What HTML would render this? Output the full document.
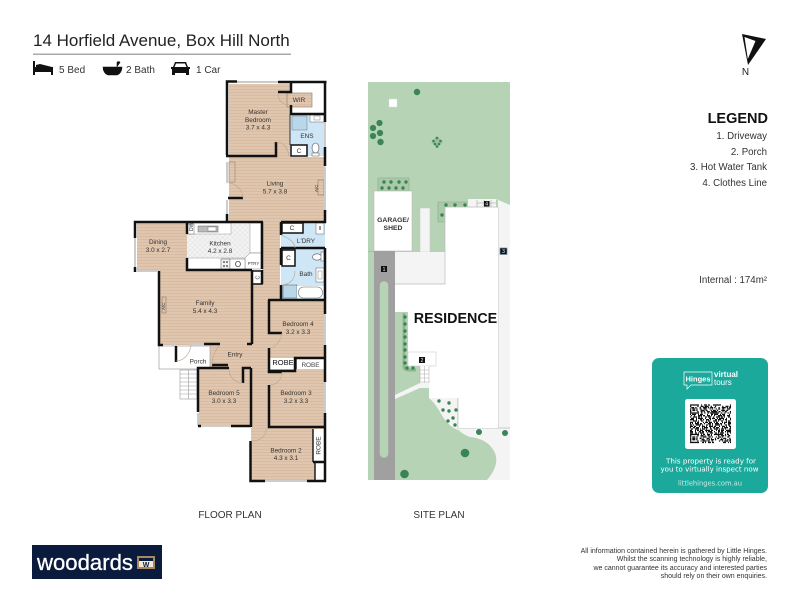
<!DOCTYPE html>
<html><head><meta charset="utf-8"><style>
html,body{margin:0;padding:0;background:#fff;width:800px;height:600px;overflow:hidden}
svg{display:block}
text{font-family:"Liberation Sans",sans-serif}
.r{font-size:6.4px;fill:#333;text-anchor:middle}
.w{fill:none;stroke:#111;stroke-width:2.5}
.t{fill:none;stroke:#111;stroke-width:1.4}
.g{fill:none;stroke:#ccc;stroke-width:2}
.a{fill:none;stroke:#b9a48f;stroke-width:.6}
.s{fill:#3a8553}
.q{stroke:#111;stroke-width:1.35}
</style></head><body>
<svg width="800" height="600" viewBox="0 0 800 600" xmlns="http://www.w3.org/2000/svg">
<defs>
<pattern id="wd" width="3" height="3" patternUnits="userSpaceOnUse"><rect width="3" height="3" fill="#e0c6ae"/><rect y="2" width="3" height="1" fill="#d8bca2"/></pattern>
<pattern id="tl" width="5" height="5" patternUnits="userSpaceOnUse"><rect width="5" height="5" fill="#f2f2f2"/><path d="M0 0L5 5M5 0L0 5" stroke="#e0e0e0" stroke-width=".5"/></pattern>
</defs>

<!-- header -->
<text x="33" y="46" font-size="17" fill="#222">14 Horfield Avenue, Box Hill North</text>
<rect x="33" y="53.500" width="258" height="1.500" fill="#aaa"/>
<path d="M33 61h2v6h18v8h-2v-3H35v3h-2zM36 65l4-1 12 3v1H36z" fill="#111"/>
<text x="59" y="73" font-size="10" fill="#333">5 Bed</text>
<path d="M103 67h19c0 4-2 7-5 8h-9c-3-1-5-4-5-8zM117 67v-4c0-2 3-2 3 0" fill="#111" stroke="#111" stroke-width=".6"/>
<text x="126" y="73" font-size="10" fill="#333">2 Bath</text>
<path d="M175 62h11l2 5h2v2h-1v6h-3v-2h-11v2h-3v-6h-1v-2h2z" fill="#111"/><path d="M176 63.500h9l1.500 3.500h-12z" fill="#fff"/>
<text x="196" y="73" font-size="10" fill="#333">1 Car</text>

<!-- north -->
<path d="M742 34L766 39L748 65Z" fill="#111"/>
<path d="M744.500 37L755.500 41L747.800 59Z" fill="#fff"/>
<text x="745.500" y="75" font-size="10" fill="#222" text-anchor="middle">N</text>

<!-- legend -->
<g text-anchor="end" fill="#333" font-size="9.700">
<text x="768" y="123" font-size="14.500" font-weight="bold" fill="#111">LEGEND</text>
<text x="767" y="139">1. Driveway</text>
<text x="767" y="155">2. Porch</text>
<text x="767" y="170">3. Hot Water Tank</text>
<text x="767" y="186">4. Clothes Line</text>
<text x="767" y="283">Internal : 174m²</text>
</g>

<!-- FLOOR PLAN floors -->
<g fill="url(#wd)">
<rect x="229" y="84" width="62" height="73"/>
<rect x="229" y="157" width="96" height="65"/>
<rect x="262" y="222" width="18" height="80"/>
<rect x="137" y="223" width="50" height="48"/>
<rect x="160" y="270" width="92" height="75"/>
<rect x="252" y="284" width="18" height="145"/>
<rect x="210" y="345" width="42" height="24"/>
<rect x="229" y="368" width="15" height="16"/>
<rect x="199" y="369" width="52" height="57"/>
<rect x="270" y="301" width="55" height="58"/>
<rect x="270" y="369" width="55" height="58"/>
<rect x="251" y="428" width="74" height="53"/>
</g>
<!-- WIR -->
<rect x="291" y="84" width="33" height="30" fill="#fff"/>
<rect x="287" y="93" width="25" height="14" fill="url(#wd)" stroke="#8a7767" stroke-width=".6"/>
<!-- blue rooms -->
<g fill="#cfe6f6">
<rect x="290" y="115" width="34" height="41"/>
<rect x="281" y="223" width="44" height="25"/>
<rect x="281" y="249" width="44" height="50"/>
</g>
<!-- kitchen -->
<rect x="187" y="223" width="63" height="36" fill="url(#tl)"/>
<rect x="187" y="223" width="44" height="11" fill="#fff" stroke="#999" stroke-width=".5"/>
<rect x="198" y="226" width="20" height="6" fill="#bbb" stroke="#666" stroke-width=".5"/>
<rect x="208" y="227" width="8" height="4" fill="#fff" stroke="#666" stroke-width=".4"/>
<rect x="187" y="224" width="7" height="10" fill="#fff" stroke="#666" stroke-width=".5"/>
<rect x="187" y="258" width="64" height="11" fill="#fff" stroke="#999" stroke-width=".5"/>
<rect x="250" y="223" width="11" height="30" fill="#fff" stroke="#999" stroke-width=".5"/>
<path d="M245 269V258L250 253H261V269Z" fill="#fff" stroke="#777" stroke-width=".5"/>
<rect x="221" y="259" width="9" height="10" fill="#f2f2f2" stroke="#555" stroke-width=".5"/>
<rect x="230" y="259" width="15" height="10" fill="#fff" stroke="#777" stroke-width=".5"/>
<text x="238" y="267" font-size="8" text-anchor="middle" fill="#333">O</text>
<circle cx="224" cy="262" r=".8"/><circle cx="227" cy="262" r=".8"/><circle cx="224" cy="266" r=".8"/><circle cx="227" cy="266" r=".8"/>
<text x="253.500" y="265" font-size="4.300" text-anchor="middle" fill="#333">PTRY</text>
<text transform="translate(193,231) rotate(-90)" font-size="5" fill="#333">DW</text>
<!-- cupboards -->
<g fill="#fff" stroke="#111" stroke-width="1.500">
<rect x="291" y="145" width="16" height="11"/>
<rect x="282" y="223" width="21" height="10"/>
<rect x="282" y="250" width="13" height="16"/>
<rect x="252" y="271" width="10" height="13"/>
</g>
<g font-size="6.500" text-anchor="middle" fill="#333">
<text x="299" y="153">C</text><text x="292" y="230">C</text><text x="288.500" y="260">C</text>
<text transform="translate(259.500,277.500) rotate(-90)" font-size="5.500">C</text>
</g>
<!-- wet fittings -->
<rect x="292" y="116" width="15" height="14" fill="#b8d8ea" stroke="#777" stroke-width=".5"/>
<rect x="310" y="115" width="14" height="7" fill="#fff" stroke="#666" stroke-width=".5"/>
<rect x="314" y="116" width="6" height="4" fill="#fff" stroke="#666" stroke-width=".4"/>
<ellipse cx="315.500" cy="148" rx="3.500" ry="5" fill="#fff" stroke="#555" stroke-width=".6"/>
<rect x="312" y="153" width="7" height="3" fill="#fff" stroke="#555" stroke-width=".5"/>
<rect x="316" y="223" width="8" height="11" fill="#fff" stroke="#666" stroke-width=".5"/>
<rect x="319" y="226" width="2" height="4" fill="#999"/>
<ellipse cx="317" cy="257" rx="4.500" ry="3.200" fill="#fff" stroke="#555" stroke-width=".6"/>
<rect x="321" y="252" width="3" height="9" fill="#fff" stroke="#555" stroke-width=".5"/>
<rect x="316" y="268" width="8" height="14" fill="#fff" stroke="#666" stroke-width=".5"/>
<rect x="318" y="271" width="4" height="8" fill="none" stroke="#666" stroke-width=".4"/>
<rect x="283" y="285" width="14" height="13" fill="#b8d8ea" stroke="#555" stroke-width=".5"/>
<rect x="297" y="286" width="28" height="12" fill="#fff"/>
<rect x="298.500" y="287" width="24" height="11" rx="5" fill="#fff" stroke="#666" stroke-width=".6"/>
<!-- robes -->
<rect x="270" y="358" width="25" height="11" fill="#fff"/>
<rect x="296" y="360" width="28" height="9" fill="#fff"/>
<rect x="313" y="429" width="11" height="33" fill="#fff"/>
<rect x="315" y="463" width="9" height="17" fill="#fff"/>
<!-- porch -->
<rect x="159" y="346" width="51" height="23" fill="#fff" stroke="#aaa" stroke-width=".8"/>
<g stroke="#999" stroke-width=".6" fill="#fff">
<rect x="180" y="370" width="17" height="29"/>
<path d="M188.500 370V399M180 374h17M180 378h17M180 382h17M180 386h17M180 390h17M180 394h17" fill="none"/>
</g>
<!-- ACs, joinery -->
<rect x="162" y="297" width="4" height="16" fill="none" stroke="#8a7767" stroke-width=".6"/>
<rect x="318" y="180" width="6" height="15" fill="none" stroke="#8a7767" stroke-width=".6"/>
<rect x="229" y="162" width="6" height="20" fill="url(#wd)" stroke="#8a7767" stroke-width=".5"/>
<text transform="translate(165,310) rotate(-90)" font-size="4.500" fill="#333">A/C</text>
<text transform="translate(318,192) rotate(-90)" font-size="4.500" fill="#333">A/C</text>

<!-- windows -->
<g class="g">
<path d="M237 82H278"/><path d="M325 122V147"/><path d="M325 167V210"/><path d="M227 162V183"/><path d="M227 200V214"/>
<path d="M135 238V268"/><path d="M137 271H157"/><path d="M325 315V345"/><path d="M325 382V413"/>
<path d="M265 481H307"/><path d="M198 413V426"/><path d="M200 426H231"/>
<path d="M172 345H176M190 345H203"/>
</g>

<!-- walls -->
<g class="w">
<path d="M227 155V81.500H237"/>
<path d="M278 82H326.500"/>
<path d="M325 81V122"/>
<path d="M325 147V166"/>
<path d="M325 210V223"/>
<path d="M226 156H276V142"/>
<path d="M278 92H291V83"/>
<path d="M291 105V114H325"/>
<path d="M227 214V222"/>
<path d="M135 238V222H263"/>
<path d="M135 267V272"/>
<path d="M262 222V269"/>
<path d="M187 222V234"/>
<path d="M187 258V270H252"/>
<path d="M252 270V344"/>
<path d="M262 284V270"/>
<path d="M281 222H326"/>
<path d="M281 222V235"/>
<path d="M281 248H325"/>
<path d="M281 248V265"/>
<path d="M281 285V300"/>
<path d="M325 248V314"/>
<path d="M159 271V345H163"/>
<path d="M268 300H325"/>
<path d="M269 300V333H282"/>
<path d="M269 348V371H295V358H325"/>
<path d="M269 371V372H282"/>
<path d="M325 345V382"/>
<path d="M269 385V427H325"/>
<path d="M325 413V482"/>
<path d="M204 344H220"/>
<path d="M212 365H228"/>
<path d="M198 412V368H229"/>
<path d="M251 368V427"/>
<path d="M243 383V368H251"/>
<path d="M198 426H201"/>
<path d="M231 426H251"/>
<path d="M250.500 441V481H265"/>
<path d="M307 481H326"/>
<path d="M313 462H325"/>
<path d="M247 344H252"/>
<path d="M176 346V362"/>
<path d="M228 198H243"/>
</g>
<path class="t" d="M313 429V462M315 463V480"/>
<path class="t" d="M296 358V369"/>
<path d="M290 114V145" stroke="#333" stroke-width="1"/>

<!-- door swings -->
<g class="a">
<path d="M278 93C278 100 282 105 290 105"/>
<path d="M276 142C284 142 288 148 289 156"/>
<path d="M228 183C236 183 243 190 243 198"/>
<path d="M281 235C287 237 295 242 295 248"/>
<path d="M281 285C290 285 295 279 295 271"/>
<path d="M282 333C282 338 276 348 270 348"/>
<path d="M282 372C282 380 276 385 270 385"/>
<path d="M251 441C260 441 267 436 266 428"/>
<path d="M176 361C184 361 190 354 191 345"/>
<path d="M212 365C212 354 218 347 220 345"/>
<path d="M229 369C229 378 236 383 243 383"/>
</g>

<!-- labels -->
<g class="r">
<text x="258" y="114">Master</text><text x="258" y="122">Bedroom</text><text x="258" y="129.500">3.7 x 4.3</text>
<text x="299" y="102">WIR</text>
<text x="307" y="138">ENS</text>
<text x="275" y="185.500">Living</text><text x="275" y="193.500">5.7 x 3.8</text>
<text x="158" y="244">Dining</text><text x="158" y="252">3.0 x 2.7</text>
<text x="220" y="245.500">Kitchen</text><text x="220" y="253">4.2 x 2.8</text>
<text x="306" y="243">L'DRY</text>
<text x="306" y="276">Bath</text>
<text x="205" y="305">Family</text><text x="205" y="313">5.4 x 4.3</text>
<text x="298" y="326">Bedroom 4</text><text x="298" y="334">3.2 x 3.3</text>
<text x="235" y="356.500">Entry</text>
<text x="198" y="363.500">Porch</text>
<text x="283" y="365" font-size="7.500" fill="#111">ROBE</text>
<text x="310.500" y="367" fill="#444">ROBE</text>
<text x="296" y="395">Bedroom 3</text><text x="296" y="403">3.2 x 3.3</text>
<text x="224" y="395">Bedroom 5</text><text x="224" y="403">3.0 x 3.3</text>
<text x="286" y="452.500">Bedroom 2</text><text x="286" y="460">4.3 x 3.1</text>
<text transform="translate(320.500,445.500) rotate(-90)">ROBE</text>
</g>

<!-- SITE PLAN -->
<rect x="368" y="82" width="142" height="398" fill="#b6d3b6"/>
<path d="M498 199H496L510 205V480H487C496 470 498 460 495 453C490 442 480 438 470 437C462 434 458 430 457 428L443 417C438 408 434 402 429 398V366H458V428H498Z" fill="#f4f4f4"/>
<path d="M429 398C434 402 438 408 443 417C447 423 452 428 458 430V398Z" fill="#f4f4f4"/>
<path d="M458 398V428H510" fill="none" stroke="#bbb" stroke-width=".8"/>
<path d="M498 207V428" stroke="#bbb" stroke-width=".8"/>
<rect x="378" y="178" width="31" height="13" fill="#a9c9a9" stroke="#8fa98f" stroke-width=".6"/>
<path d="M468 202H438V222H445" fill="#a9c9a9" stroke="#8fa98f" stroke-width=".6"/>
<rect x="420" y="208" width="10" height="44" fill="#f4f4f4" stroke="#ccc" stroke-width=".6"/>
<rect x="395" y="252" width="50" height="32" fill="#f4f4f4"/>
<rect x="468" y="199" width="28" height="8" fill="#f4f4f4"/>
<path d="M477 200V207M484 200V207M491 200V207M477 203H496" stroke="#999" stroke-width=".5"/>
<rect x="374" y="191" width="38" height="60" fill="#fff" stroke="#bbb" stroke-width=".6"/>
<path d="M368 251.500H374" stroke="#aaa" stroke-width=".6"/>
<path d="M445 207H498V428H458V398H429V366H408V312H395V284H445Z" fill="#fff"/>
<path d="M445 207H498M445 207V284H395" fill="none" stroke="#bbb" stroke-width=".7"/>
<path d="M458 398V428" stroke="#bbb" stroke-width=".7"/>
<rect x="374" y="251" width="21" height="229" fill="#a0a0a0"/>
<rect x="379.500" y="281" width="9" height="177" rx="4.500" fill="#b6d3b6" stroke="#999" stroke-width=".4"/>
<rect x="408" y="352" width="28" height="14" fill="#fff" stroke="#ccc" stroke-width=".6"/>
<rect x="420" y="366" width="9" height="17" fill="#fff"/>
<path d="M420 370H429M420 374H429M420 378H429M420 382H429M424.500 366V383M420 366V383M429 366V383" stroke="#aaa" stroke-width=".5"/>
<path d="M395 395L420 383H429V388H420L395 399Z" fill="#f4f4f4"/>
<path d="M404 313V366C404 369 406 370 408 370H416" fill="none" stroke="#8fb78f" stroke-width="3"/>
<rect x="389" y="99" width="8" height="8" fill="#fff" stroke="#ddd" stroke-width=".4"/>
<path d="M437 136L443 142L437 148L431 142Z" fill="#9dbf9f"/>
<g class="s">
<circle cx="417" cy="92" r="3.200"/>
<circle cx="379.500" cy="123" r="3.100"/><circle cx="373" cy="128" r="3.100"/><circle cx="380" cy="133" r="3.100"/><circle cx="373" cy="136" r="3.100"/><circle cx="380.500" cy="142" r="3.200"/>
<circle cx="437" cy="138" r="1.300"/><circle cx="433.500" cy="141" r="1.300"/><circle cx="440.500" cy="141" r="1.300"/><circle cx="435" cy="144" r="1.300"/><circle cx="439" cy="144" r="1.300"/><circle cx="437" cy="146.500" r="1.300"/>
<circle cx="384" cy="182" r="1.700"/><circle cx="391" cy="182" r="1.700"/><circle cx="399" cy="182" r="1.700"/><circle cx="406" cy="182" r="1.700"/>
<circle cx="382" cy="188" r="1.700"/><circle cx="389" cy="188" r="1.700"/><circle cx="396" cy="188" r="1.700"/><circle cx="403" cy="188" r="1.700"/>
<circle cx="446" cy="205" r="1.700"/><circle cx="455" cy="205" r="1.700"/><circle cx="465" cy="205" r="1.700"/><circle cx="442" cy="215" r="1.700"/>
<circle cx="405" cy="317" r="1.700"/><circle cx="405" cy="324" r="1.700"/><circle cx="405" cy="331" r="1.700"/><circle cx="405" cy="337" r="1.700"/><circle cx="405" cy="344" r="1.700"/><circle cx="405" cy="350" r="1.700"/><circle cx="405" cy="357" r="1.700"/><circle cx="405" cy="363" r="1.700"/><circle cx="407" cy="368" r="1.700"/><circle cx="413" cy="368" r="1.700"/>
<circle cx="439" cy="401" r="1.700"/><circle cx="449" cy="403" r="1.700"/><circle cx="443" cy="410" r="1.700"/><circle cx="449" cy="411" r="1.700"/><circle cx="456" cy="410" r="1.700"/><circle cx="453" cy="418" r="1.700"/><circle cx="448" cy="421" r="1.700"/><circle cx="455" cy="425" r="1.700"/>
<circle cx="479" cy="432" r="3"/><circle cx="505" cy="433" r="3"/><circle cx="465" cy="453" r="4.300"/><circle cx="404.500" cy="474" r="4.300"/>
</g>
<g font-size="5" text-anchor="middle" fill="#fff">
<rect x="381" y="266" width="6" height="6" fill="#111"/><text x="384" y="271">1</text>
<rect x="419" y="357" width="6" height="6" fill="#111"/><text x="422" y="362">2</text>
<rect x="500" y="248" width="7" height="6.500" fill="#111" stroke="#6d8fb0" stroke-width=".7"/><text x="503.500" y="253">3</text>
<rect x="484" y="201" width="5.500" height="5.500" fill="#111"/><text x="486.700" y="205.700">4</text>
</g>
<text x="393" y="222" font-size="6.800" font-weight="bold" text-anchor="middle" fill="#333">GARAGE/</text>
<text x="393" y="230" font-size="6.800" font-weight="bold" text-anchor="middle" fill="#333">SHED</text>
<text x="455.500" y="323" font-size="14.300" font-weight="bold" text-anchor="middle" fill="#111">RESIDENCE</text>

<text x="230" y="518" font-size="10" text-anchor="middle" fill="#333">FLOOR PLAN</text>
<text x="439" y="518" font-size="10" text-anchor="middle" fill="#333">SITE PLAN</text>

<!-- card -->
<rect x="652" y="358" width="116" height="135" rx="7" fill="#1ba99c"/>
<path d="M684 372H712V385H691L687 389V385H684Z" fill="none" stroke="#fff" stroke-width=".7"/>
<text x="698" y="381.500" font-size="7.500" font-weight="bold" fill="#fff" text-anchor="middle">Hinges</text>
<text x="714" y="377" font-size="8" font-weight="bold" fill="#fff">virtual</text>
<text x="714" y="385" font-size="8" fill="#fff">tours</text>
<rect x="685" y="399" width="51" height="50" rx="2.500" fill="#fff"/>
<g class="q">
<path d="M690 405h41" stroke-dasharray="9 2 1 2 3 1 2 3 8"/>
<path d="M690 406.400h41" stroke-dasharray="1.300 6 1.300 2 3 1 4 2 1.300 3"/>
<path d="M690 407.700h41" stroke-dasharray="1.300 1 3 1 1.300 3 1.300 2 4 1" stroke-dashoffset="1"/>
<path d="M690 409h41" stroke-dasharray="1.300 1 3 1 1.300 2 2 2 3 3 1"/>
<path d="M690 410.400h41" stroke-dasharray="1.300 1 3 1 1.300 3 4 1 2 3"/>
<path d="M690 411.700h41" stroke-dasharray="1.300 6 1.300 2 2 1 1.300 2 3"/>
<path d="M690 413h41" stroke-dasharray="9 2 1.300 2 1.300 2 1.300 1"/>
<path d="M690 414.400h41" stroke-dasharray="1 3 2 1 4 2 1 1 3 4" stroke-dashoffset="5"/>
<path d="M690 415.700h41" stroke-dasharray="3 1 1 2 1 3 4 1 2 2" stroke-dashoffset="3"/>
<path d="M690 417h41" stroke-dasharray="1 2 4 1 2 1 1 3 2 1 3 2"/>
<path d="M690 418.400h41" stroke-dasharray="2 1 3 2 1 1 5 2 1 3" stroke-dashoffset="2"/>
<path d="M690 419.700h41" stroke-dasharray="4 2 1 3 2 1 1 2 3 1 1"/>
<path d="M690 421h41" stroke-dasharray="1 1 2 3 4 1 1 2 2 3" stroke-dashoffset="4"/>
<path d="M690 422.400h41" stroke-dasharray="3 2 1 1 2 4 1 1 3 1"/>
<path d="M690 423.700h41" stroke-dasharray="1 3 3 1 1 2 4 1 2 2" stroke-dashoffset="6"/>
<path d="M690 425h41" stroke-dasharray="2 1 1 2 5 1 1 3 2 1"/>
<path d="M690 426.400h41" stroke-dasharray="4 1 2 3 1 2 3 1 1 2" stroke-dashoffset="1"/>
<path d="M690 427.700h41" stroke-dasharray="1 2 2 1 3 3 1 1 4 2"/>
<path d="M690 429h41" stroke-dasharray="3 1 1 3 2 2 4 1 1 1" stroke-dashoffset="7"/>
<path d="M690 430.400h41" stroke-dasharray="2 3 1 1 2 1 3 2 5 1"/>
<path d="M690 431.700h41" stroke-dasharray="1 1 4 2 1 3 2 1 2 2" stroke-dashoffset="3"/>
<path d="M690 433h41" stroke-dasharray="3 2 2 1 1 1 4 3 1 2"/>
<path d="M690 434.400h41" stroke-dasharray="9 2 1 1 2 2 3 1 1 2"/>
<path d="M690 435.700h41" stroke-dasharray="1.300 6 1.300 2 3 1 1 2 2 1"/>
<path d="M690 437h41" stroke-dasharray="1.300 1 3 1 1.300 3 1 1 4 2 2"/>
<path d="M690 438.400h41" stroke-dasharray="1.300 1 3 1 1.300 2 2 1 1 3 3"/>
<path d="M690 439.700h41" stroke-dasharray="1.300 1 3 1 1.300 4 3 2 1 1"/>
<path d="M690 441h41" stroke-dasharray="1.300 6 1.300 2 1 1 4 1 2 2"/>
<path d="M690 442.400h41" stroke-dasharray="9 3 2 1 1 2 3 1 2"/>
</g>
<g font-size="6.900" text-anchor="middle" fill="#fff" style="font-family:'DejaVu Sans',sans-serif">
<text x="711" y="463.500" style="font-family:'DejaVu Sans',sans-serif" textLength="90" lengthAdjust="spacingAndGlyphs">This property is ready for</text>
<text x="709.500" y="471.500" style="font-family:'DejaVu Sans',sans-serif" textLength="98" lengthAdjust="spacingAndGlyphs">you to virtually inspect now</text>
<text x="710" y="485.500" fill="#c8ece7" style="font-family:'DejaVu Sans',sans-serif" textLength="64" lengthAdjust="spacingAndGlyphs">littlehinges.com.au</text>
</g>

<!-- logo -->
<rect x="32" y="545" width="130" height="34" fill="#0a1b3d"/>
<text x="37" y="570" font-size="22" fill="#fff" stroke="#fff" stroke-width=".3" textLength="96" lengthAdjust="spacingAndGlyphs">woodards</text>
<rect x="137" y="556" width="18" height="13" fill="#a8895f"/>
<rect x="139" y="558" width="14" height="3" fill="#0a1b3d"/>
<rect x="139" y="561" width="14" height="6" fill="#f2e8d8"/>
<text x="146" y="567" font-size="7" font-weight="bold" text-anchor="middle" fill="#0a1b3d">W</text>

<!-- disclaimer -->
<g font-size="7" text-anchor="end" fill="#333">
<text x="767" y="553">All information contained herein is gathered by Little Hinges.</text>
<text x="767" y="561">Whilst the scanning technology is highly reliable,</text>
<text x="767" y="570">we cannot guarantee its accuracy and interested parties</text>
<text x="767" y="578">should rely on their own enquiries.</text>
</g>
</svg>
</body></html>
